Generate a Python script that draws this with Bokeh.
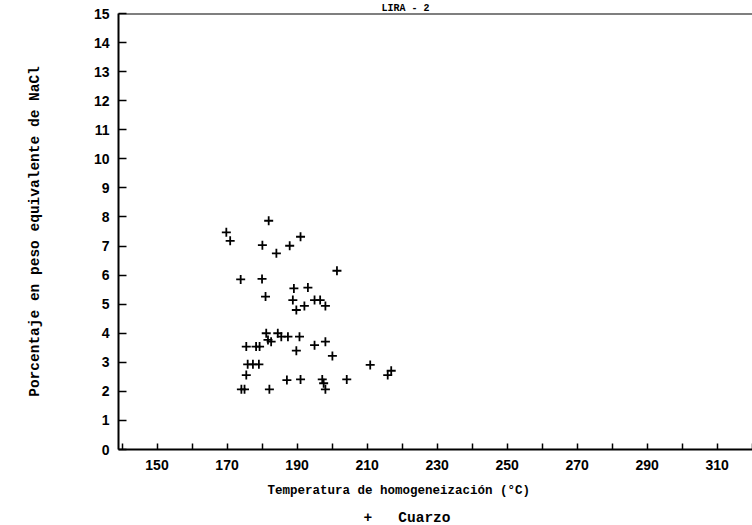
from bokeh.plotting import figure
from bokeh.models import Range1d, FixedTicker, Span, Title
from bokeh.embed import file_html
from bokeh.resources import INLINE

# Homogenization temperature (°C) and salinity (wt% NaCl eq.) of quartz inclusions
temperatura = [169.8, 170.9, 181.9, 180.1, 184.1, 187.9, 191.0, 201.4,
               173.9, 180.0, 181.0, 189.1, 193.1, 188.8, 189.8, 192.1, 195.0, 196.6, 198.1,
               181.2, 184.5, 181.7, 182.6, 185.5, 187.4, 190.7, 175.5, 178.3, 179.3, 189.8,
               195.0, 198.1, 200.1,
               175.9, 177.4, 179.1, 175.5, 174.1, 175.0, 182.1, 187.1, 191.0, 197.2, 197.6,
               198.1, 204.2, 210.9, 215.9, 216.9]
nacl = [7.47, 7.18, 7.87, 7.03, 6.75, 7.01, 7.32, 6.15,
        5.85, 5.87, 5.26, 5.54, 5.57, 5.14, 4.80, 4.94, 5.14, 5.14, 4.94,
        4.00, 4.00, 3.77, 3.71, 3.88, 3.88, 3.88, 3.54, 3.54, 3.54, 3.40,
        3.59, 3.71, 3.22,
        2.93, 2.93, 2.93, 2.56, 2.07, 2.07, 2.07, 2.39, 2.41, 2.41, 2.28,
        2.07, 2.41, 2.91, 2.56, 2.71]

x_ticks = [150, 170, 190, 210, 230, 250, 270, 290, 310]
x_minor = [140, 160, 180, 200, 220, 240, 260, 280, 300, 320]
y_ticks = list(range(0, 16))

titulo = "LIRA - 2"
x_label = "Temperatura de homogeneización (°C)"
y_label = "Porcentaje en peso equivalente de NaCl"
serie = "Cuarzo"
leyenda = "+\u00a0\u00a0\u00a0" + serie

p = figure(width=752, height=525, output_backend="svg", toolbar_location=None,
           x_range=Range1d(139, 320.1), y_range=Range1d(0, 15),
           min_border_left=118, min_border_right=0, min_border_top=13, min_border_bottom=76)
p.outline_line_color = None
p.xgrid.grid_line_color = None
p.ygrid.grid_line_color = None
p.background_fill_color = "white"
p.border_fill_color = "white"

r = p.scatter(temperatura, nacl, marker="cross", size=9, line_width=1.8, color="black")

for ax in (p.xaxis, p.yaxis):
    ax.axis_line_width = 2
    ax.axis_line_color = "black"
    ax.major_tick_line_width = 1.5
    ax.minor_tick_line_width = 1.5
    ax.major_tick_out = 0
    ax.minor_tick_out = 0
    ax.major_label_text_font = "Liberation Sans"
    ax.major_label_text_font_style = "bold"
    ax.major_label_text_font_size = "14px"
    ax.major_label_text_color = "black"
    ax.axis_label_text_font = "Liberation Mono"
    ax.axis_label_text_font_style = "bold"
    ax.axis_label_text_color = "black"

p.xaxis.ticker = FixedTicker(ticks=x_ticks, minor_ticks=x_minor)
p.xaxis.major_tick_in = 6
p.xaxis.minor_tick_in = 6
p.xaxis.major_label_standoff = 10

p.yaxis.ticker = FixedTicker(ticks=y_ticks, minor_ticks=[])
p.yaxis.major_tick_in = 8
p.yaxis.major_label_standoff = 9
p.yaxis.axis_label = y_label
p.yaxis.axis_label_text_font_size = "14.5px"
p.yaxis.axis_label_standoff = 48

# top border of the frame
p.add_layout(Span(location=15, dimension="width", line_color="black", line_width=2))

txt = dict(text_font="Liberation Mono", text_font_style="bold", text_color="black")

# title, in the narrow strip above the frame
p.add_layout(Title(text=titulo, align="left", offset=263, standoff=0,
                   text_font_size="10px", **txt), "above")

# x-axis title, placed where the scan has it
p.add_layout(Title(text=x_label, align="left", offset=149, standoff=18.5,
                   text_font_size="12.5px", **txt), "below")

# legend line: "+   Cuarzo"
p.add_layout(Title(text=leyenda, align="left", offset=245, standoff=0,
                   text_font_size="14.5px", **txt), "below")

open("out.html", "w").write(file_html(p, INLINE))
